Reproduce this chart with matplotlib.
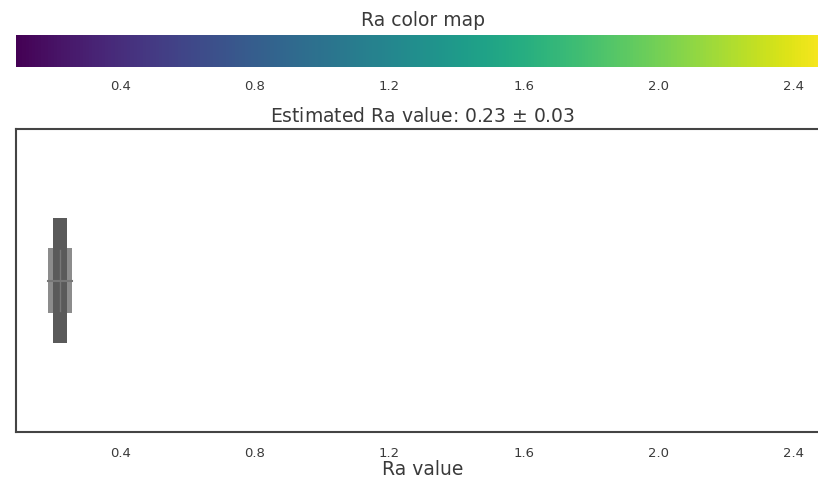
import matplotlib
matplotlib.use("Agg")
import matplotlib.pyplot as plt
import matplotlib.colors as mcolors
import matplotlib.cm as cm
import numpy as np

# Data
ra_estimate = 0.23
ra_uncert = 0.03
level_low = [0.200, 0.184]     # letter-value box lower bounds (inner, outer)
level_high = [0.242, 0.257]    # letter-value box upper bounds (inner, outer)
ra_median = 0.221
x_min, x_max = 0.09, 2.51
tick_values = [0.4, 0.8, 1.2, 1.6, 2.0, 2.4]
tick_labels = ["0.4", "0.8", "1.2", "1.6", "2.0", "2.4"]

W, H = 818, 485
fig = plt.figure(figsize=(W / 100, H / 100), dpi=100)
txt = "#3a3a3a"

# Colorbar axis
left = 16 / W
right = 830 / W
cax = fig.add_axes([left, 1 - 68 / H, right - left, 32 / H])
norm = mcolors.Normalize(vmin=x_min, vmax=x_max)
sm = cm.ScalarMappable(norm=norm, cmap="viridis")
cb = fig.colorbar(sm, cax=cax, orientation="horizontal")
cb.outline.set_visible(False)
cb.set_ticks(tick_values)
cb.set_ticklabels(tick_labels)
cax.tick_params(axis="x", length=0, pad=9, labelsize=9.5, labelcolor=txt)
cax.set_title("Ra color map", fontsize=13.5, color=txt, pad=7)

# Main axis
ax = fig.add_axes([left, 1 - 433 / H, right - left, (433 - 130) / H])
heights = [0.41, 0.215]
colors = ["#5a5a5a", "#8c8c8c"]
# draw outer first then inner
for lo, hi, h, c in list(zip(level_low, level_high, heights, colors))[::-1]:
    ax.barh(0, hi - lo, left=lo, height=h, color=c, edgecolor="none", zorder=2)
ax.plot([level_low[1], level_high[1]], [0, 0], color="#777777", lw=1.5, zorder=3)
ax.plot([ra_median, ra_median], [-0.1, 0.1], color="#777777", lw=1, zorder=3)

ax.set_xlim(x_min, x_max)
ax.set_ylim(-0.5, 0.5)
ax.set_yticks([])
ax.set_xticks(tick_values)
ax.set_xticklabels(tick_labels)
ax.tick_params(axis="x", length=0, pad=10, labelsize=9.5, labelcolor=txt)
for s in ax.spines.values():
    s.set_color("#444444")
    s.set_linewidth(1.5)
ax.set_xlabel("Ra value", fontsize=13.5, color=txt, labelpad=0)
ax.set_title(f"Estimated Ra value: {ra_estimate:.2f} $\\pm$ {ra_uncert:.2f}",
             fontsize=13.5, color=txt, pad=6)

fig.savefig("out.png", dpi=100)
